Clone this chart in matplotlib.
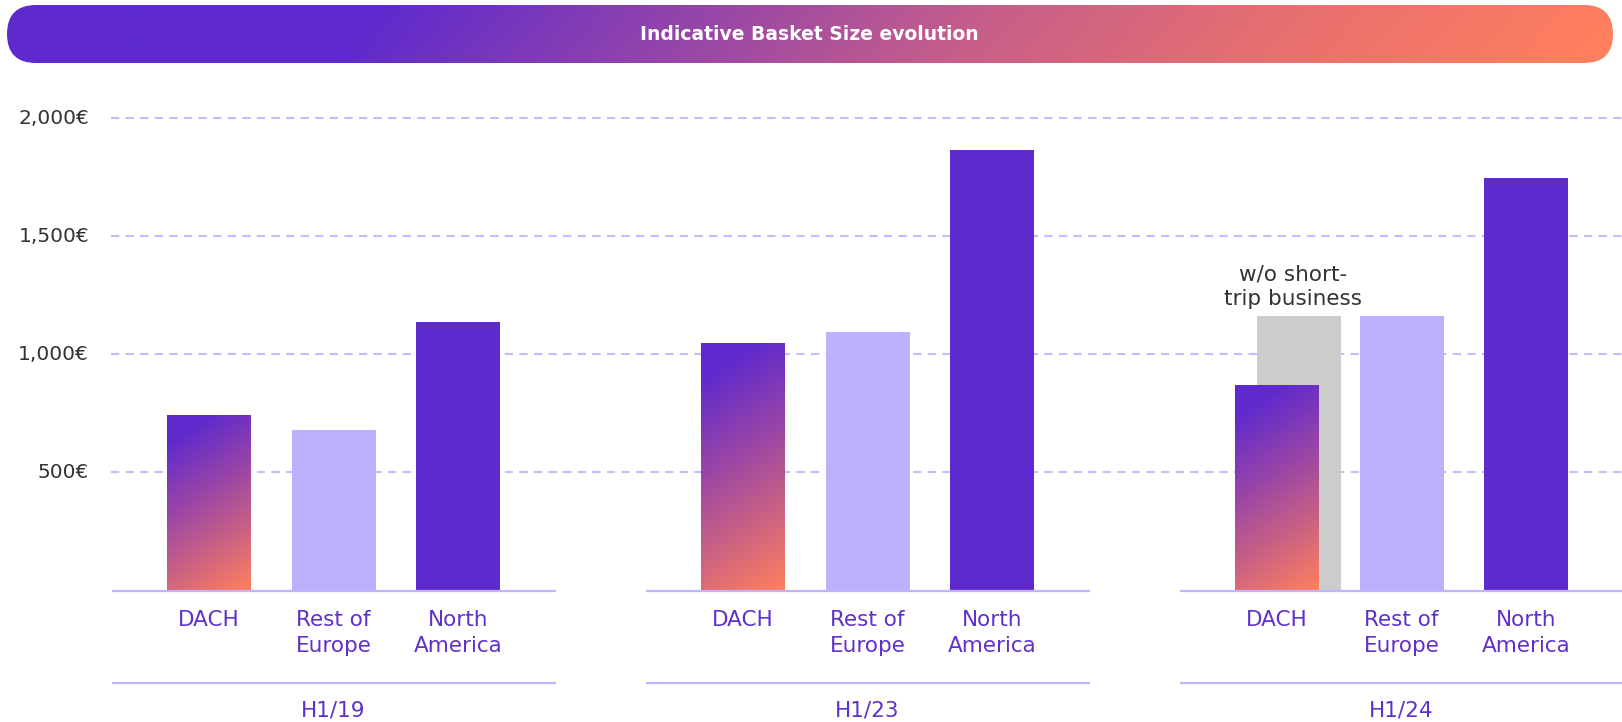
import numpy as np
import matplotlib
matplotlib.use("Agg")
import matplotlib.pyplot as plt
from matplotlib.colors import LinearSegmentedColormap
from matplotlib.patches import FancyBboxPatch

plt.rcParams["font.family"] = ["DejaVu Sans"]

# ─── data ────────────────────────────────────────────────────────────────────
title       = "Indicative Basket Size evolution"
periods     = ["H1/19", "H1/23", "H1/24"]
regions     = ["DACH", "Rest of\nEurope", "North\nAmerica"]
dach        = [740, 1042, 866]
rest_europe = [679, 1095, 1163]
n_america   = [1139, 1866, 1748]
dach_wo_short = [None, None, 1163]          # DACH w/o short-trip business
note_text   = "w/o short-\ntrip business"
yticks      = [500, 1000, 1500, 2000]
ytick_labels = ["500€", "1,000€", "1,500€", "2,000€"]

# ─── style ───────────────────────────────────────────────────────────────────
PURPLE = "#5F2ACD"
LILAC  = "#BDB1FD"
CORAL  = "#FF7F5E"
GREY   = "#CCCCCC"
LINE   = "#C0B4FD"
GRID   = "#C6BBFF"
TEXT   = "#333333"
LABEL  = "#6030CC"

W, H = 1622, 722
BASE_PX = 590.5                     # pixel row of 0 €
PPU     = (590.5 - 118.3) / 2000    # pixels per €
SLOT    = 124.5                     # pixels between bars in a group
X0      = 209                       # pixel centre of first bar
GROUP_STEP = 534 / SLOT
BAR_W   = 84 / SLOT
LINE_H  = 26                        # pixel line height of two-line labels

fig = plt.figure(figsize=(W / 100, H / 100), dpi=100)
ax = fig.add_axes([0, 0, 1, 1])
XLIM = (-X0 / SLOT, (W - X0) / SLOT)
YLIM = (-(H - BASE_PX) / PPU, BASE_PX / PPU)

def px_x(p):
    return (p - X0) / SLOT

def px_y(p):
    return (BASE_PX - p) / PPU

# grid
ax.hlines(yticks, px_x(111), XLIM[1], colors=GRID, linestyles=(0, (4, 3)),
          lw=1.5, zorder=1)
for v, lab in zip(yticks, ytick_labels):
    ax.text(px_x(89), v, lab, ha="right", va="center", fontsize=14.5, color=TEXT)

# DACH gradient colormap
dach_cmap = LinearSegmentedColormap.from_list(
    "dach", [(0, PURPLE), (0.12, PURPLE), (0.45, "#9B46A6"),
             (0.75, "#D0657F"), (1, CORAL)])

def gradient_bar(xc, val):
    w_px, h_px = 84, val * PPU
    xs = np.linspace(0, w_px, 60)
    ys = np.linspace(0, h_px, 200)
    gx, gy = np.meshgrid(xs, ys)
    t = (0.53 * gx + 0.85 * gy) / (0.53 * w_px + 0.85 * h_px)
    ax.imshow(t, cmap=dach_cmap, extent=[xc - BAR_W / 2, xc + BAR_W / 2, 0, val],
              origin="upper", aspect="auto", interpolation="bilinear", zorder=3)

for g, period in enumerate(periods):
    base_x = g * GROUP_STEP
    xs = base_x + np.arange(3)

    if dach_wo_short[g] is not None:
        ax.bar(xs[0] + 22 / SLOT, dach_wo_short[g], width=BAR_W, color=GREY, zorder=2)
        ax.text(xs[0] + 16 / SLOT, px_y(305), note_text,
                ha="center", va="baseline", fontsize=15.5, color=TEXT,
                linespacing=1.25)
    gradient_bar(xs[0], dach[g])
    ax.bar(xs[1], rest_europe[g], width=BAR_W, color=LILAC, zorder=2)
    ax.bar(xs[2], n_america[g], width=BAR_W, color=PURPLE, zorder=2)

    mid = xs[1]
    half = 222 / SLOT
    ax.plot([mid - half, mid + half], [0, 0], color=LINE, lw=1.6, zorder=4,
            solid_capstyle="butt")
    ax.plot([mid - half, mid + half], [px_y(683)] * 2, color=LINE, lw=1.6,
            solid_capstyle="butt")

    for x, reg in zip(xs, regions):
        n_lines = reg.count("\n")
        ax.text(x, px_y(625.7 + LINE_H * n_lines), reg, ha="center", va="baseline",
                fontsize=15.5, color=LABEL, linespacing=1.35)
    ax.text(mid, px_y(717), period, ha="center", va="baseline", fontsize=15.5,
            color=LABEL)

ax.set_xlim(*XLIM)
ax.set_ylim(*YLIM)
ax.axis("off")

# ─── title pill ──────────────────────────────────────────────────────────────
tax = fig.add_axes([7 / W, (H - 63) / H, 1606 / W, 58 / H])
tax.set_xlim(0, 1606)
tax.set_ylim(0, 58)
tax.axis("off")
pill = FancyBboxPatch((0, 0), 1606, 58, boxstyle="round,pad=0,rounding_size=29",
                      facecolor="none", edgecolor="none")
tax.add_patch(pill)
title_cmap = LinearSegmentedColormap.from_list(
    "title", [(0, PURPLE), (0.22, PURPLE), (0.38, "#8A40B0"),
              (0.6, "#C65E8A"), (0.8, "#E8706F"), (1, CORAL)])
gx, gy = np.meshgrid(np.linspace(0, 1, 400), np.linspace(0, 1, 20))
tgrad = np.clip(gx - 0.03 * (gy - 0.5), 0, 1)
im = tax.imshow(tgrad, cmap=title_cmap, extent=[0, 1606, 0, 58], origin="lower",
                aspect="auto", interpolation="bilinear")
im.set_clip_path(pill)
tax.text(802, 29, title, ha="center", va="center", fontsize=13.5,
         fontweight="bold", color="white")

fig.savefig("out.png", dpi=100)
